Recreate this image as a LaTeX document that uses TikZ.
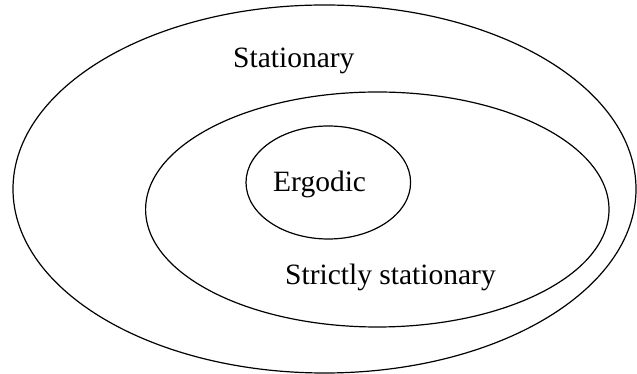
\documentclass[tikz,border=0pt]{standalone}
\usepackage{fontspec}
\setmainfont{Liberation Serif}
\begin{document}
\begin{tikzpicture}[x=1pt,y=1pt,
  ring/.style={draw=black,line width=1.2pt},
  lbl/.style={inner sep=0pt,anchor=base west,font=\fontsize{29.5}{34}\selectfont}]
\useasboundingbox (0,0) rectangle (637,374);
\draw[ring] (324.5,185) ellipse [x radius=311.5, y radius=184];
\draw[ring] (377.3,164.5) ellipse [x radius=231.7, y radius=117.5];
\draw[ring] (328.3,191.5) ellipse [x radius=82.3, y radius=56.5];
\node[lbl] (stat) at (233,306) {Stationary};
\node[lbl] (erg) at (273,182) {Ergodic};
\node[lbl] (strict) at (285,89) {Strictly stationary};
\end{tikzpicture}
\end{document}
